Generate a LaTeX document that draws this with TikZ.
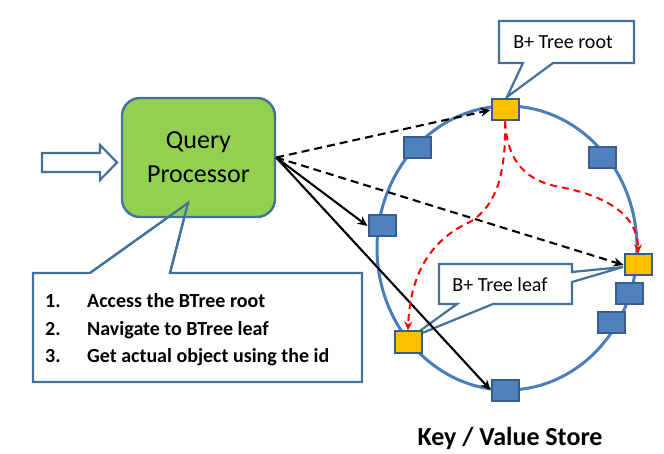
\documentclass[tikz,border=0pt]{standalone}
\usepackage{fontspec}
\setmainfont{Carlito}
\usetikzlibrary{arrows.meta}
\definecolor{bordblue}{HTML}{41719C}
\definecolor{ringblue}{HTML}{4A7EBB}
\definecolor{sqfill}{HTML}{4F81BD}
\definecolor{sqdraw}{HTML}{385D8A}
\definecolor{qpgreen}{HTML}{92D050}
\definecolor{amber}{HTML}{FFC000}
\begin{document}
\begin{tikzpicture}[x=1pt,y=-1pt,
  sq/.style={draw=sqdraw, line width=2pt, fill=sqfill, minimum width=27pt, minimum height=21pt, inner sep=0pt},
  osq/.style={sq, fill=amber},
  callout/.style={draw=bordblue, line width=2.2pt, fill=white, line join=miter},
  qpbox/.style={draw=bordblue, line width=2.4pt, fill=qpgreen, rounded corners=18pt, minimum width=153pt, minimum height=119pt, align=center, font=\fontsize{26}{34}\selectfont, inner sep=0pt},
  ctext/.style={anchor=base west, inner sep=0pt, font=\bfseries\fontsize{20}{22}\selectfont},
  lbl/.style={inner sep=0pt, font=\fontsize{20}{22}\selectfont},
  blk/.style={draw=black, line width=2.1pt, -{Stealth[length=10pt,width=9pt]}},
  blkdash/.style={blk, dash pattern=on 8pt off 5pt},
  reddash/.style={draw=red, line width=2pt, dash pattern=on 7pt off 5pt, -{Stealth[length=9pt,width=8pt]}}
]
\useasboundingbox (0,0) rectangle (664,454);

% ring
\draw[ringblue, line width=3pt] (507,248) ellipse [x radius=130pt, y radius=142pt];

% input arrow
\draw[bordblue, line width=2.2pt, fill=white, line join=miter]
  (42,153) -- (100,153) -- (100,145) -- (117,162.5) -- (100,180) -- (100,172) -- (42,172) -- cycle;

% main callout behind the query processor
\draw[callout] (33,273) -- (90,273) -- (188,203) -- (170,273) -- (362,273) -- (362,382) -- (33,382) -- cycle;
\node[qpbox] (qp) at (198.5,157.5) {Query\\Processor};
\draw[bordblue, line width=2.2pt] (90,273) -- (188,203) -- (170,273);

\node[ctext] (n1) at (45,308) {1.};
\node[ctext] (n2) at (45,335) {2.};
\node[ctext] (n3) at (45,362) {3.};
\node[ctext] (t1) at (87,308) {Access the BTree root};
\node[ctext] (t2) at (87,335) {Navigate to BTree leaf};
\node[ctext] (t3) at (87,362) {Get actual object using the id};

% B+ tree root callout
\draw[callout] (499,21) -- (634,21) -- (634,63) -- (553,63) -- (507,97) -- (523,63) -- (499,63) -- cycle;
\node[lbl] (rootlbl) at (563,42) {B+ Tree root};

% B+ tree leaf callout
\draw[callout] (439,264) -- (572,264) -- (572,272) -- (623,267) -- (572,282) -- (572,304) -- (493,304) -- (410,338) -- (457,304) -- (439,304) -- cycle;
\node[lbl] (leaflbl) at (500,285) {B+ Tree leaf};

% squares
\node[osq] (rootsq) at (505,110) {};
\node[sq] (b1) at (417,148) {};
\node[sq] (b2) at (602,158) {};
\node[sq] (b3) at (382,226) {};
\node[osq] (rightsq) at (638,265) {};
\node[sq] (b4) at (629,294) {};
\node[sq] (b5) at (611,323) {};
\node[osq] (leafsq) at (408,342) {};
\node[sq] (b6) at (505,390) {};

% arrows from the query processor
\draw[blkdash] (qp.east) -- (rootsq.west);
\draw[blkdash] (qp.east) -- (rightsq.west);
\draw[blk] (qp.east) -- (b3.west);
\draw[blk] (qp.east) -- (b6.west);

% red navigation paths
\draw[reddash] (rootsq.south) .. controls (506,170) and (498,205) .. (470,222)
   .. controls (430,240) and (410,275) .. (leafsq.north);
\draw[reddash] (rootsq.south) .. controls (507,155) and (520,180) .. (560,187)
   .. controls (612,197) and (638,218) .. (rightsq.north);

\node[anchor=base, inner sep=0pt, font=\bfseries\fontsize{26}{30}\selectfont] (kvs) at (510,445) {Key / Value Store};
\end{tikzpicture}
\end{document}
